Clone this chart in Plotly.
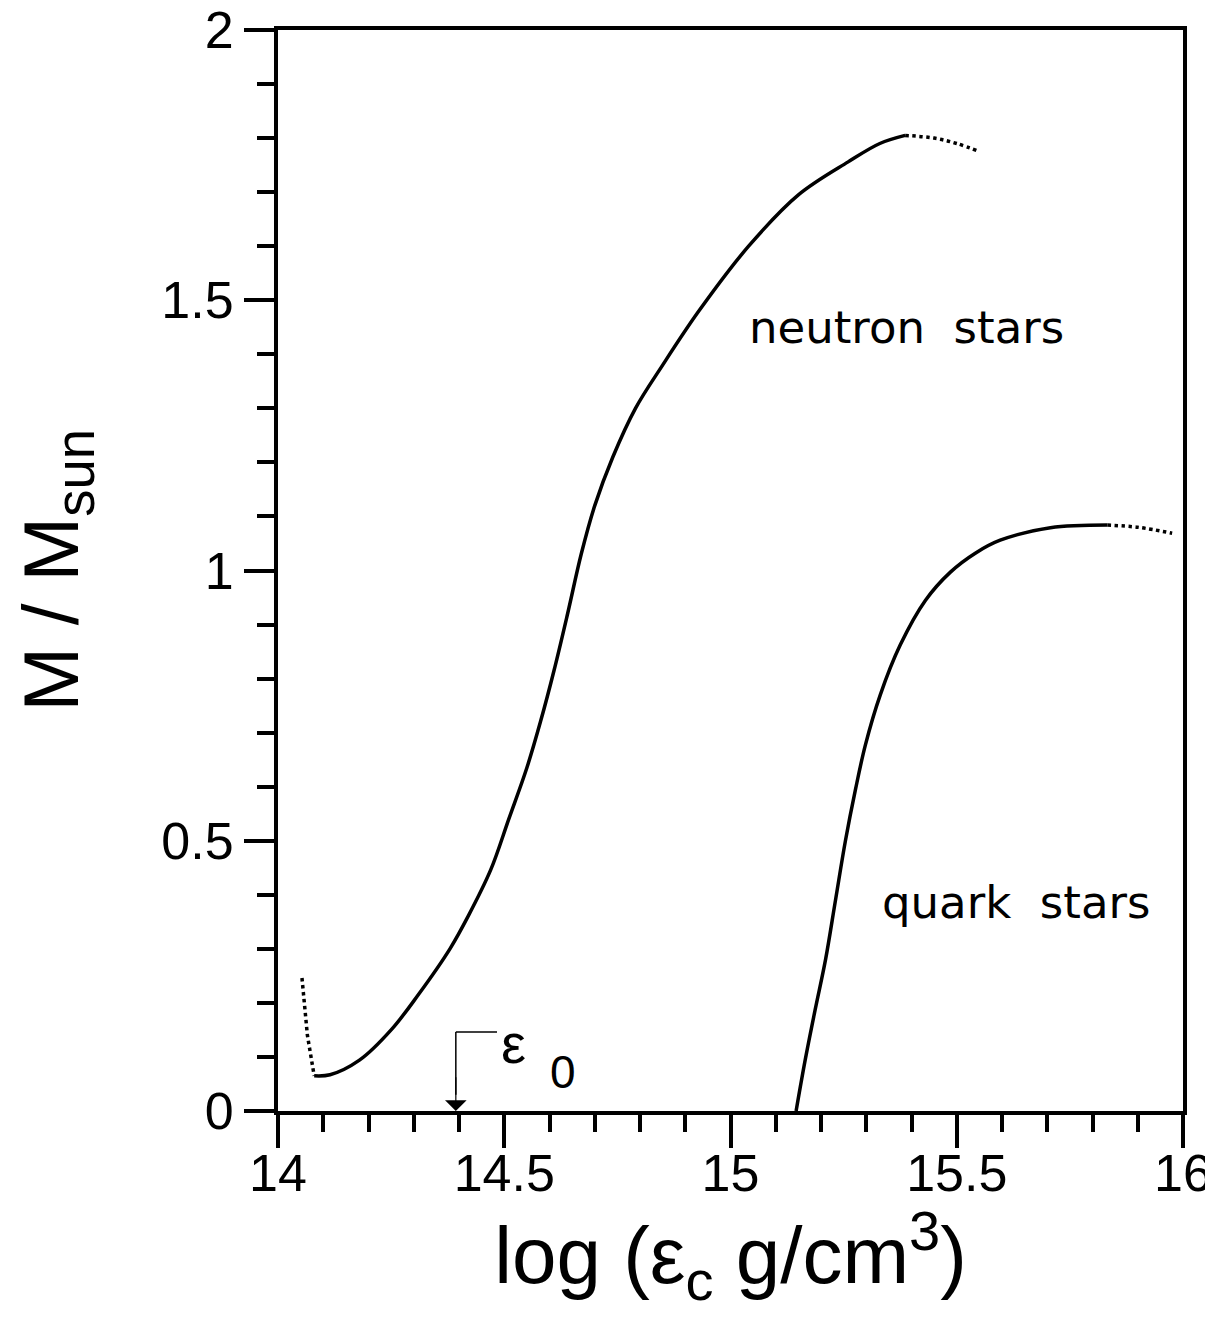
import plotly.graph_objects as go

# Neutron stars: solid branch
ns_x = [14.08, 14.115, 14.18, 14.25, 14.31, 14.38, 14.42, 14.47, 14.51, 14.55, 14.58,
        14.61, 14.64, 14.67, 14.70, 14.74, 14.79, 14.85, 14.93, 15.04, 15.15, 15.26, 15.33, 15.386]
ns_y = [0.065, 0.067, 0.094, 0.15, 0.215, 0.30, 0.36, 0.446, 0.54, 0.635, 0.72,
        0.815, 0.92, 1.03, 1.12, 1.21, 1.30, 1.38, 1.48, 1.60, 1.695, 1.756, 1.79, 1.805]
# Neutron stars: dotted (unstable) branches
ns_low_x = [14.053, 14.065, 14.08]
ns_low_y = [0.246, 0.14, 0.065]
ns_high_x = [15.386, 15.45, 15.50, 15.55]
ns_high_y = [1.805, 1.80, 1.79, 1.775]

# Quark stars
qs_x = [15.145, 15.165, 15.187, 15.21, 15.232, 15.254, 15.276, 15.298, 15.331, 15.375,
        15.431, 15.486, 15.541, 15.596, 15.707, 15.833]
qs_y = [0.0, 0.094, 0.187, 0.28, 0.39, 0.50, 0.594, 0.677, 0.77, 0.862,
        0.945, 0.997, 1.032, 1.056, 1.079, 1.084]
qs_high_x = [15.833, 15.90, 15.976]
qs_high_y = [1.084, 1.080, 1.069]

eps0 = 14.393

x_ticks = [14, 14.5, 15, 15.5, 16]
x_labels = ["14", "14.5", "15", "15.5", "16"]
y_ticks = [0, 0.5, 1, 1.5, 2]
y_labels = ["0", "0.5", "1", "1.5", "2"]

FONT = "Liberation Sans, Arial, sans-serif"
solid = dict(color="black", width=3.5)
dotted = dict(color="black", width=3.5, dash="dot")

fig = go.Figure()
fig.add_trace(go.Scatter(x=ns_x, y=ns_y, mode="lines", line=solid, line_shape="spline"))
fig.add_trace(go.Scatter(x=ns_low_x, y=ns_low_y, mode="lines", line=dotted))
fig.add_trace(go.Scatter(x=ns_high_x, y=ns_high_y, mode="lines", line=dotted, line_shape="spline"))
fig.add_trace(go.Scatter(x=qs_x, y=qs_y, mode="lines", line=solid, line_shape="spline"))
fig.add_trace(go.Scatter(x=qs_high_x, y=qs_high_y, mode="lines", line=dotted, line_shape="spline"))

# epsilon_0 marker
fig.add_shape(type="line", x0=eps0, x1=eps0, y0=0.146, y1=0.03, line=dict(color="black", width=1.5))
fig.add_shape(type="line", x0=eps0, x1=14.484, y0=0.146, y1=0.146, line=dict(color="black", width=1.5))
fig.add_annotation(x=eps0, y=0.0, ax=eps0, ay=0.065, axref="x", ayref="y", xref="x", yref="y",
                   showarrow=True, arrowhead=1, arrowsize=3, arrowwidth=1.2, arrowcolor="black", text="")
fig.add_annotation(x=14.52, y=0.125, text="ε", showarrow=False, xanchor="center",
                   font=dict(family=FONT, size=56, color="black"))
fig.add_annotation(x=14.63, y=0.072, text="0", showarrow=False, xanchor="center",
                   font=dict(family=FONT, size=46, color="black"))

fig.add_annotation(x=15.388, y=1.449, text="neutron  stars", showarrow=False,
                   font=dict(family="DejaVu Sans, sans-serif", size=45, color="black"))
fig.add_annotation(x=15.631, y=0.385, text="quark  stars", showarrow=False,
                   font=dict(family="DejaVu Sans, sans-serif", size=45, color="black"))

# y-axis title as a rotated annotation (axis titles are clamped inside the margin)
fig.add_annotation(x=-0.245, y=0.5, xref="paper", yref="paper", xanchor="center", yanchor="middle",
                   text="M / M<sub>sun</sub>", textangle=-90, showarrow=False,
                   font=dict(family=FONT, size=78, color="black"))

# the page body adds an 8px margin, so the figure is sized/offset to compensate
# (height kept below the window so no scrollbar eats into the width)
fig.update_layout(
    width=1205, height=1304,
    margin=dict(l=270, r=30, t=22, b=201),
    paper_bgcolor="white", plot_bgcolor="white",
    showlegend=False,
    font=dict(family=FONT, color="black"),
    xaxis=dict(
        range=[14, 16], showgrid=False, zeroline=False, automargin=False,
        showline=True, linecolor="black", linewidth=4, mirror=True,
        ticks="outside", ticklen=33, tickwidth=4, tickcolor="black",
        tickvals=x_ticks, ticktext=x_labels, tickfont=dict(size=52),
        ticklabelstandoff=-19, ticklabeloverflow="allow",
        minor=dict(ticks="outside", ticklen=17, tickwidth=3.5, tickcolor="black", dtick=0.1, showgrid=False),
        title=dict(text="log (ε<sub>c</sub> g/cm<sup>3</sup>)", font=dict(size=80), standoff=22),
    ),
    yaxis=dict(
        range=[0, 2], showgrid=False, zeroline=False, automargin=False,
        showline=True, linecolor="black", linewidth=4, mirror=True,
        ticks="outside", ticklen=30, tickwidth=4, tickcolor="black",
        tickvals=y_ticks, ticktext=y_labels, tickfont=dict(size=52),
        ticklabeloverflow="allow",
        minor=dict(ticks="outside", ticklen=17, tickwidth=3.5, tickcolor="black", dtick=0.1, showgrid=False),
    ),
)

fig.write_html("out.html")
